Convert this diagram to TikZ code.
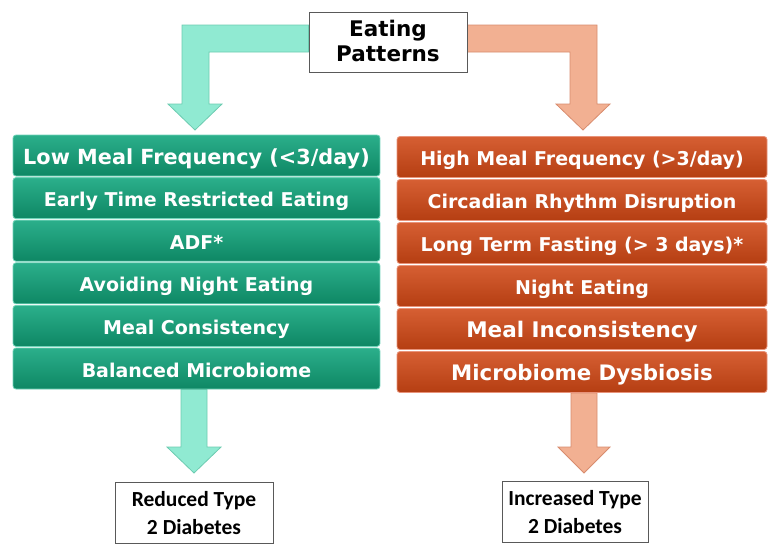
\documentclass[tikz,border=0pt]{standalone}
\usepackage{fontspec}
\setmainfont{DejaVu Sans}
\newfontfamily\calfont{Carlito}
\usetikzlibrary{backgrounds}
\definecolor{goodtop}{HTML}{2BAF8B}
\definecolor{goodbot}{HTML}{0E8764}
\definecolor{goodedge}{HTML}{6FD3B8}
\definecolor{badtop}{HTML}{D65F33}
\definecolor{badbot}{HTML}{B53E12}
\definecolor{badedge}{HTML}{E8937A}
\definecolor{goodfill}{HTML}{90EAD2}
\definecolor{goodline}{HTML}{6CCBB0}
\definecolor{badfill}{HTML}{F2B092}
\definecolor{badline}{HTML}{D88C6E}
\tikzset{
  rowbox/.style={rounded corners=3pt, minimum height=41pt, inner sep=0pt,
    text=white, font=\bfseries\fontsize{19}{22}\selectfont,
    text height=17pt, text depth=0pt},
  goodbox/.style={rowbox, minimum width=367pt, top color=goodtop, bottom color=goodbot, draw=goodedge, line width=0.8pt},
  badbox/.style={rowbox, minimum width=370pt, top color=badtop, bottom color=badbot, draw=badedge, line width=0.8pt},
  endbox/.style={draw=black!65, line width=0.9pt, fill=white, align=center, inner sep=0pt},
  goodarrow/.style={fill=goodfill, draw=goodline, line width=0.8pt},
  badarrow/.style={fill=badfill, draw=badline, line width=0.8pt},
}
\begin{document}
\begin{tikzpicture}[x=1pt,y=-1pt]
  \useasboundingbox (0,0) rectangle (778,554);
  \node[endbox, minimum width=158pt, minimum height=60pt, text height=40pt, text depth=2pt,
    font=\bfseries\fontsize{21.5}{25}\selectfont] (eat) at (388,42) {Eating\\Patterns};
  \begin{scope}[every node/.style={goodbox}]
    \node[font=\bfseries\fontsize{20.8}{24}\selectfont] (g1) at (196.5,155.5) {Low Meal Frequency (<3/day)};
    \node (g2) at (196.5,198.1) {Early Time Restricted Eating};
    \node (g3) at (196.5,240.7) {ADF*};
    \node (g4) at (196.5,283.3) {Avoiding Night Eating};
    \node (g5) at (196.5,325.9) {Meal Consistency};
    \node (g6) at (196.5,368.5) {Balanced Microbiome};
  \end{scope}
  \begin{scope}[every node/.style={badbox}]
    \node (b1) at (582,157) {High Meal Frequency (>3/day)};
    \node (b2) at (582,200) {Circadian Rhythm Disruption};
    \node (b3) at (582,243) {Long Term Fasting (> 3 days)*};
    \node (b4) at (582,286) {Night Eating};
    \node[font=\bfseries\fontsize{21.5}{24}\selectfont] (b5) at (582,329) {Meal Inconsistency};
    \node[font=\bfseries\fontsize{21.3}{24}\selectfont] (b6) at (582,372) {Microbiome Dysbiosis};
  \end{scope}
  \begin{scope}[every node/.style={endbox, font=\calfont\bfseries\fontsize{21.5}{28}\selectfont,
      minimum height=61pt, text height=45pt, text depth=2pt}]
    \node[minimum width=158pt] (less) at (194,512.5) {Reduced Type\\2 Diabetes};
    \node[minimum width=146pt] (more) at (575,512) {Increased Type\\2 Diabetes};
  \end{scope}
  % block arrows behind the boxes
  \begin{scope}[on background layer]
    \draw[goodarrow] ([yshift=17pt]eat.west) -- (182,25) -- (182,104) -- (168,104) -- (195,130)
      -- (222,104) -- (209,104) -- (209,52) -- ([yshift=-10pt]eat.west) -- cycle;
    \draw[badarrow] ([yshift=17pt]eat.east) -- (597,25) -- (597,104) -- (610,104) -- (583,130)
      -- (556,104) -- (570,104) -- (570,52) -- ([yshift=-10pt]eat.east) -- cycle;
    \draw[goodarrow] ([xshift=-15.5pt]g6.south) -- (181,447) -- (167,447) -- (194,473)
      -- (221,447) -- (207,447) -- ([xshift=10.5pt]g6.south) -- cycle;
    \draw[badarrow] ([xshift=-11pt]b6.south) -- (571,447) -- (558,447) -- (584,473)
      -- (610,447) -- (597,447) -- ([xshift=15pt]b6.south) -- cycle;
  \end{scope}
\end{tikzpicture}
\end{document}
